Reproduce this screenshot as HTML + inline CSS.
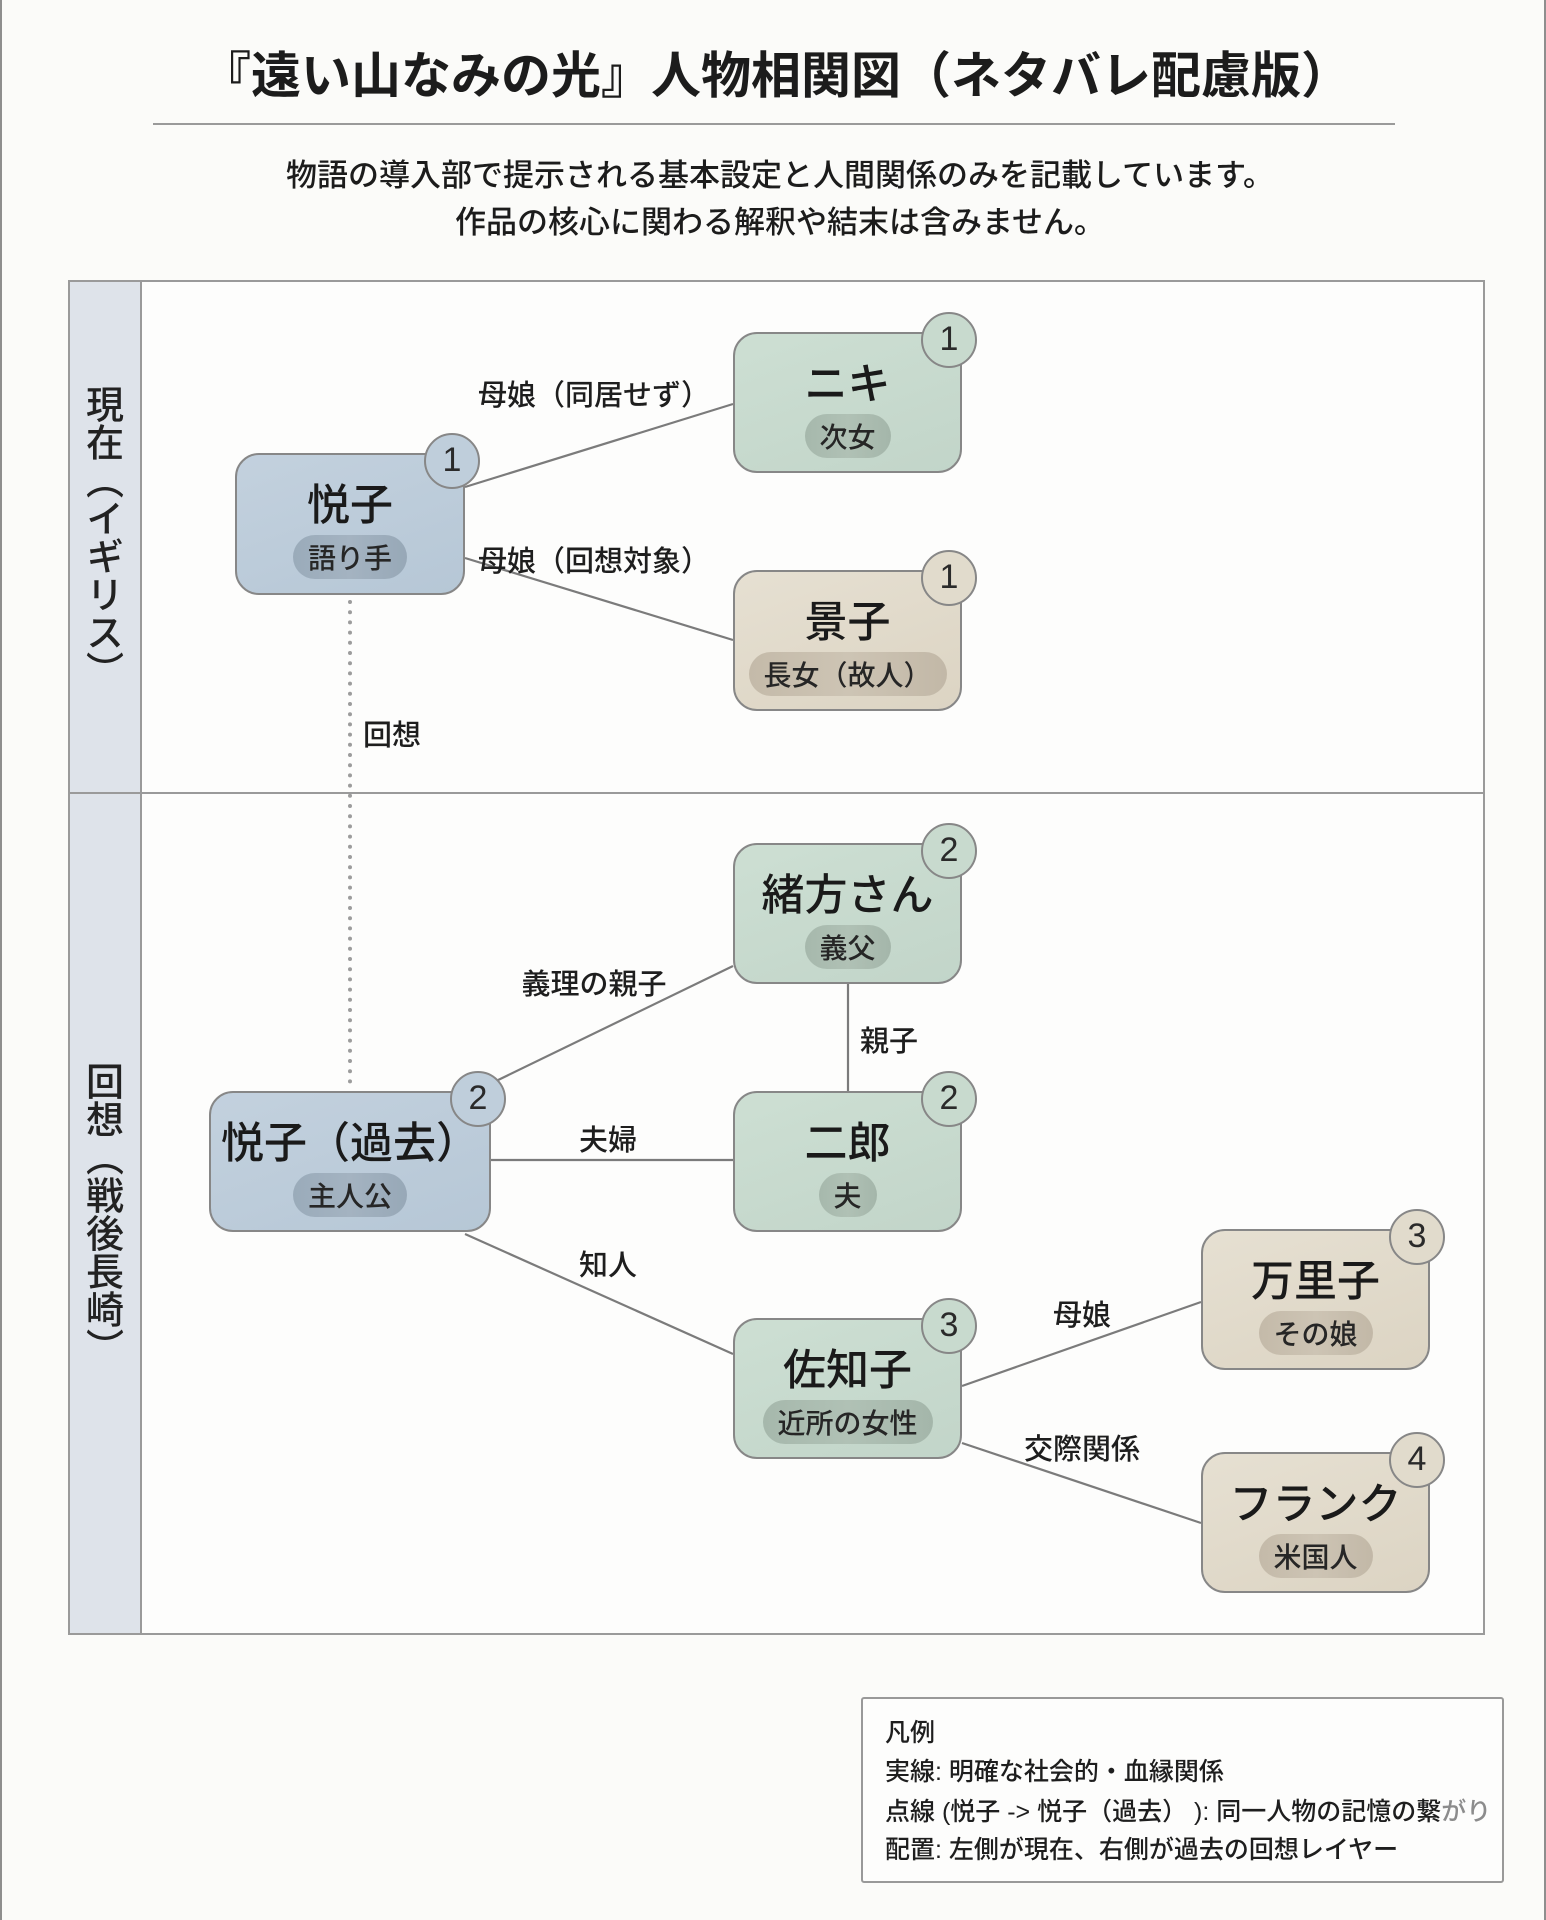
<!DOCTYPE html>
<html lang="ja">
<head>
<meta charset="utf-8">
<style>
  html,body{margin:0;padding:0;}
  body{width:1546px;height:1920px;position:relative;overflow:hidden;background:#fbfbf9;
    font-family:"Liberation Sans","Noto Sans CJK JP",sans-serif;color:#1c1c1c;}
  .frameL{position:absolute;left:0;top:0;width:2px;height:1920px;background:#8e8e8e;}
  .frameR{position:absolute;right:0;top:0;width:2px;height:1920px;background:#8e8e8e;}
  .title{position:absolute;left:3px;width:1546px;top:42px;height:60px;line-height:60px;text-align:center;
    font-size:50px;font-weight:700;font-family:"Noto Sans CJK JP","Liberation Sans",sans-serif;}
  .rule{position:absolute;left:153px;width:1242px;top:123px;height:2px;background:#9a9a9a;}
  .sub{position:absolute;left:7px;width:1546px;text-align:center;font-size:31px;font-weight:500;
    height:44px;line-height:44px;font-family:"Noto Sans CJK JP","Liberation Sans",sans-serif;}
  .panel{position:absolute;left:68px;top:280px;width:1417px;height:1355px;box-sizing:border-box;
    border:2px solid #9a9a9a;background:#fdfdfc;}
  .side{position:absolute;left:68px;width:74px;box-sizing:border-box;border:2px solid #9a9a9a;
    background:#dee3ea;display:flex;align-items:center;justify-content:center;}
  .side span{writing-mode:vertical-rl;font-size:38px;font-weight:500;letter-spacing:0;
    font-family:"Noto Sans CJK JP",sans-serif;color:#222;}
  .hdiv{position:absolute;left:68px;width:1417px;top:792px;height:2px;background:#9a9a9a;}
  svg.edges{position:absolute;left:0;top:0;}
  .lbl{position:absolute;transform:translate(-50%,-50%);font-size:29px;font-weight:500;white-space:nowrap;
    font-family:"Noto Sans CJK JP",sans-serif;color:#1e1e1e;}
  .node{position:absolute;box-sizing:border-box;border:2px solid #878787;border-radius:24px;}
  .blue{background:linear-gradient(160deg,#c3d1de,#b6c7d6);}
  .green{background:linear-gradient(160deg,#cddfd3,#c2d5c9);}
  .beige{background:linear-gradient(160deg,#e6e0d2,#dcd4c3);}
  .node .t{position:absolute;left:0;right:0;top:22px;height:50px;line-height:50px;text-align:center;
    font-size:43px;font-weight:500;font-family:"Noto Sans CJK JP",sans-serif;color:#1a1a1a;white-space:nowrap;}
  .node .p{position:absolute;left:50%;transform:translateX(-50%);top:80px;height:44px;line-height:44px;
    padding:0 15px;border-radius:22px;font-size:28px;font-weight:500;white-space:nowrap;
    font-family:"Noto Sans CJK JP",sans-serif;color:#262626;}
  .blue .p{background:linear-gradient(90deg,#9aabba,#a4b3c1,#97a8b7);}
  .green .p{background:linear-gradient(90deg,#a6b8ac,#b0c1b5,#a4b6aa);}
  .beige .p{background:linear-gradient(90deg,#c4baa9,#cdc4b4,#c2b8a7);}
  .node .b{position:absolute;left:calc(100% - 39px);top:-22px;width:56px;height:56px;box-sizing:border-box;
    border:2px solid #878787;border-radius:50%;text-align:center;line-height:51px;font-size:34px;
    font-family:"Liberation Sans",sans-serif;color:#2a2a2a;}
  .blue .b{background:#bfcedb;}
  .green .b{background:#c8dace;}
  .beige .b{background:#e1dbcc;}
  .legend{position:absolute;left:861px;top:1697px;width:643px;height:186px;box-sizing:border-box;
    border:2px solid #999;border-radius:3px;background:#fdfdfc;}
  .legend div{position:absolute;left:22px;font-size:25px;font-weight:500;white-space:nowrap;height:34px;line-height:34px;
    font-family:"Liberation Sans","Noto Sans CJK JP",sans-serif;color:#1e1e1e;}
</style>
</head>
<body>
<div class="frameL"></div>
<div class="frameR"></div>

<div class="title">『遠い山なみの光』人物相関図（ネタバレ配慮版）</div>
<div class="rule"></div>
<div class="sub" style="top:151px;">物語の導入部で提示される基本設定と人間関係のみを記載しています。</div>
<div class="sub" style="top:198px;">作品の核心に関わる解釈や結末は含みません。</div>

<div class="panel"></div>
<div class="side" style="top:280px;height:514px;"><span>現在（イギリス）</span></div>
<div class="side" style="top:792px;height:843px;"><span>回想（戦後長崎）</span></div>
<div class="hdiv"></div>

<svg class="edges" width="1546" height="1920" viewBox="0 0 1546 1920">
  <g stroke="#7b7b7b" stroke-width="2.2" fill="none">
    <line x1="465" y1="487" x2="733" y2="404"/>
    <line x1="465" y1="558" x2="733" y2="640"/>
    <line x1="494" y1="1082" x2="733" y2="966"/>
    <line x1="848" y1="984" x2="848" y2="1091"/>
    <line x1="491" y1="1160" x2="733" y2="1160"/>
    <line x1="465" y1="1234" x2="733" y2="1354"/>
    <line x1="962" y1="1386" x2="1201" y2="1302"/>
    <line x1="962" y1="1443" x2="1201" y2="1523"/>
  </g>
  <line x1="350" y1="602" x2="350" y2="1090" stroke="#9c9c9c" stroke-width="4" stroke-linecap="round" stroke-dasharray="0 10.2"/>
</svg>

<div class="lbl" style="left:594px;top:393px;">母娘（同居せず）</div>
<div class="lbl" style="left:594px;top:559px;">母娘（回想対象）</div>
<div class="lbl" style="left:392px;top:733px;">回想</div>
<div class="lbl" style="left:594px;top:982px;">義理の親子</div>
<div class="lbl" style="left:889px;top:1039px;">親子</div>
<div class="lbl" style="left:608px;top:1138px;">夫婦</div>
<div class="lbl" style="left:608px;top:1263px;">知人</div>
<div class="lbl" style="left:1082px;top:1313px;">母娘</div>
<div class="lbl" style="left:1082px;top:1447px;">交際関係</div>

<div class="node blue" style="left:235px;top:453px;width:230px;height:142px;">
  <div class="t">悦子</div><div class="p">語り手</div><div class="b">1</div>
</div>
<div class="node green" style="left:733px;top:332px;width:229px;height:141px;">
  <div class="t">ニキ</div><div class="p">次女</div><div class="b">1</div>
</div>
<div class="node beige" style="left:733px;top:570px;width:229px;height:141px;">
  <div class="t">景子</div><div class="p">長女（故人）</div><div class="b">1</div>
</div>
<div class="node green" style="left:733px;top:843px;width:229px;height:141px;">
  <div class="t">緒方さん</div><div class="p">義父</div><div class="b">2</div>
</div>
<div class="node green" style="left:733px;top:1091px;width:229px;height:141px;">
  <div class="t">二郎</div><div class="p">夫</div><div class="b">2</div>
</div>
<div class="node blue" style="left:209px;top:1091px;width:282px;height:141px;">
  <div class="t">悦子（過去）</div><div class="p">主人公</div><div class="b">2</div>
</div>
<div class="node green" style="left:733px;top:1318px;width:229px;height:141px;">
  <div class="t">佐知子</div><div class="p">近所の女性</div><div class="b">3</div>
</div>
<div class="node beige" style="left:1201px;top:1229px;width:229px;height:141px;">
  <div class="t">万里子</div><div class="p">その娘</div><div class="b">3</div>
</div>
<div class="node beige" style="left:1201px;top:1452px;width:229px;height:141px;">
  <div class="t">フランク</div><div class="p">米国人</div><div class="b">4</div>
</div>

<div class="legend">
  <div style="top:17px;">凡例</div>
  <div style="top:56px;">実線: 明確な社会的・血縁関係</div>
  <div style="top:96px;">点線 (悦子 -&gt; 悦子（過去） ): 同一人物の記憶の繋<span style="color:#8c8c8c;">がり</span></div>
  <div style="top:134px;">配置: 左側が現在、右側が過去の回想レイヤー</div>
</div>
</body>
</html>
